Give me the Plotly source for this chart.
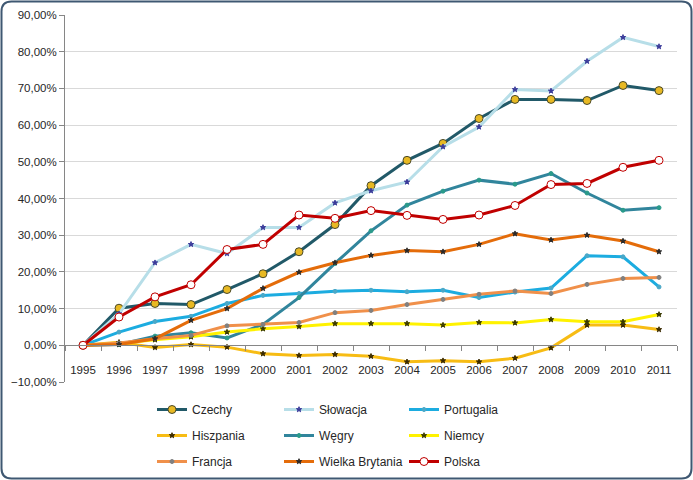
import plotly.graph_objects as go

years = [str(y) for y in range(1995, 2012)]

czechy = [0, 10.1, 11.4, 11.1, 15.2, 19.5, 25.5, 32.9, 43.5, 50.4, 55.0, 61.8, 67.0, 67.0, 66.7, 70.8, 69.4]
slowacja = [0, 8.6, 22.5, 27.5, 25.0, 32.1, 32.1, 38.8, 42.1, 44.5, 54.1, 59.5, 69.7, 69.3, 77.4, 83.9, 81.4]
portugalia = [0, 3.6, 6.5, 7.9, 11.4, 13.6, 14.1, 14.7, 15.0, 14.6, 15.0, 13.0, 14.5, 15.6, 24.4, 24.1, 15.9]
hiszpania = [0, 0.8, -0.6, 0.2, -0.5, -2.3, -2.8, -2.5, -3.0, -4.5, -4.2, -4.5, -3.5, -0.7, 5.5, 5.5, 4.3]
wegry = [0, 0.2, 2.5, 3.4, 2.0, 5.7, 13.0, 22.3, 31.2, 38.2, 42.0, 45.0, 43.9, 46.8, 41.5, 36.8, 37.5]
niemcy = [0, 0.5, 1.5, 2.3, 3.6, 4.5, 5.1, 5.9, 5.9, 5.9, 5.5, 6.2, 6.1, 7.0, 6.4, 6.4, 8.4]
francja = [0, 0.6, 1.8, 2.7, 5.3, 5.7, 6.2, 8.9, 9.5, 11.1, 12.5, 13.9, 14.8, 14.1, 16.6, 18.2, 18.5]
wielka_brytania = [0, 0.2, 1.8, 6.8, 10.0, 15.5, 19.9, 22.5, 24.5, 25.8, 25.5, 27.5, 30.4, 28.7, 30.0, 28.4, 25.5]
polska = [0, 7.7, 13.2, 16.5, 26.1, 27.5, 35.5, 34.6, 36.7, 35.4, 34.3, 35.5, 38.1, 43.8, 44.1, 48.5, 50.4]

series = [
    # name, values, line color, marker symbol, marker size, marker fill, marker line color, legend
    ("Czechy", czechy, "#215968", "circle", 8, "#E8B923", "#4A4A2A", "legend"),
    ("Słowacja", slowacja, "#B7DEE8", "star", 4, "#3B3B9A", "#3B3B9A", "legend2"),
    ("Portugalia", portugalia, "#1CACE0", "circle", 4, "#4AA8C8", "#4AA8C8", "legend3"),
    ("Hiszpania", hiszpania, "#F7BC14", "star", 4, "#3A2A00", "#3A2A00", "legend"),
    ("Węgry", wegry, "#31859C", "circle", 4, "#2A9A8A", "#2A9A8A", "legend2"),
    ("Niemcy", niemcy, "#FFF200", "star", 4, "#3A3A00", "#3A3A00", "legend3"),
    ("Francja", francja, "#F0904A", "circle", 4, "#808080", "#808080", "legend"),
    ("Wielka Brytania", wielka_brytania, "#E46C0A", "star", 4, "#2A2A2A", "#2A2A2A", "legend2"),
    ("Polska", polska, "#C00000", "circle", 8, "#FFFFFF", "#C00000", "legend3"),
]

fig = go.Figure()
for i, (name, vals, lc, sym, ms, mf, mlc, lg) in enumerate(series):
    fig.add_trace(go.Scatter(
        x=years, y=vals, name=name, mode="lines+markers",
        line=dict(color=lc, width=3),
        marker=dict(symbol=sym, size=ms, color=mf, line=dict(color=mlc, width=1)),
        legend=lg, legendgroup=name,
    ))

L, R, T, B = 65, 16, 15, 98
W, H = 693, 480
pw, ph = W - L - R, H - T - B

def px2x(px):
    return (px - L) / pw

def px2y(py):
    return (H - B - py) / ph

# rounded outer border
x0, x1, y0, y1, r = 1.5, 691.5, 1.5, 478.5, 10
pts = [
    f"M {px2x(x0 + r)},{px2y(y0)}",
    f"L {px2x(x1 - r)},{px2y(y0)}",
    f"Q {px2x(x1)},{px2y(y0)} {px2x(x1)},{px2y(y0 + r)}",
    f"L {px2x(x1)},{px2y(y1 - r)}",
    f"Q {px2x(x1)},{px2y(y1)} {px2x(x1 - r)},{px2y(y1)}",
    f"L {px2x(x0 + r)},{px2y(y1)}",
    f"Q {px2x(x0)},{px2y(y1)} {px2x(x0)},{px2y(y1 - r)}",
    f"L {px2x(x0)},{px2y(y0 + r)}",
    f"Q {px2x(x0)},{px2y(y0)} {px2x(x0 + r)},{px2y(y0)} Z",
]
fig.add_shape(type="path", path=" ".join(pts), xref="paper", yref="paper",
              line=dict(color="#3F5872", width=2), layer="above")

font = dict(family="Liberation Sans, Arial, sans-serif", size=12, color="#262626")
leg_common = dict(orientation="v", yanchor="top", xanchor="left", font=font,
                  bgcolor="rgba(0,0,0,0)", itemwidth=30, tracegroupgap=7,
                  itemclick=False)
ly = px2y(395)
fig.update_layout(
    width=W, height=H,
    margin=dict(l=L, r=R, t=T, b=B, autoexpand=False),
    paper_bgcolor="white", plot_bgcolor="white",
    separators=", ",
    font=font,
    showlegend=True,
    legend=dict(x=px2x(152), y=ly, **leg_common),
    legend2=dict(x=px2x(279), y=ly, **leg_common),
    legend3=dict(x=px2x(404), y=ly, **leg_common),
    xaxis=dict(
        type="category", anchor="free", position=0.1,
        range=[-0.5, len(years) - 0.5],
        showline=True, linecolor="#868686", linewidth=1,
        ticks="outside", ticklen=5, tickcolor="#868686", tickson="boundaries",
        showgrid=False, ticklabelstandoff=14, tickangle=0,
        tickfont=dict(size=11.5, color="#262626"),
    ),
    yaxis=dict(
        range=[-10, 90], dtick=10, tick0=0,
        tickformat=".2f", ticksuffix="%",
        showline=True, linecolor="#868686", linewidth=1,
        ticks="outside", ticklen=5, tickcolor="#868686",
        showgrid=True, gridcolor="#D9D9D9", gridwidth=1,
        zeroline=False,
        tickfont=dict(size=11.5, color="#262626"),
    ),
)

fig.write_html("out.html", post_script="document.body.style.margin='0';",
               config={"displayModeBar": False})
